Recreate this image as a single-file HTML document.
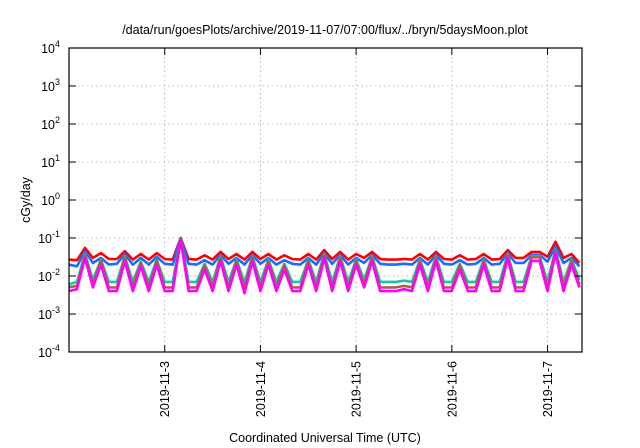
<!DOCTYPE html>
<html><head><meta charset="utf-8"><style>
html,body{margin:0;padding:0;background:#fff}
svg{display:block;font-family:"Liberation Sans",sans-serif}
</style></head><body>
<svg id="chart" width="640" height="448" viewBox="0 0 640 448">
<text x="325" y="34" font-size="12.5" text-anchor="middle" fill="#000">/data/run/goesPlots/archive/2019-11-07/07:00/flux/../bryn/5daysMoon.plot</text>
<text x="325" y="442" font-size="12.5" text-anchor="middle" fill="#000">Coordinated Universal Time (UTC)</text>
<text transform="translate(30,200) rotate(-90)" font-size="12.5" text-anchor="middle" fill="#000">cGy/day</text>
<g id="grid"></g>
<g id="series"></g>
<g id="axes"></g>
</svg>
<script>
const xTickDays = [3,4,5,6,7];
const xTickLabels = ["2019-11-3","2019-11-4","2019-11-5","2019-11-6","2019-11-7"];
const yTickExps = [-4,-3,-2,-1,0,1,2,3,4];
const startDay = 2.0;
const stepDays = 2/24;
const magenta = [0.004,0.0045,0.03,0.005,0.02,0.004,0.004,0.025,0.004,0.018,0.004,0.02,0.004,0.004,0.09,0.004,0.004,0.015,0.004,0.025,0.004,0.02,0.0035,0.025,0.004,0.02,0.004,0.015,0.004,0.004,0.02,0.004,0.03,0.004,0.025,0.004,0.02,0.005,0.025,0.004,0.004,0.004,0.0045,0.004,0.02,0.004,0.025,0.004,0.004,0.015,0.004,0.004,0.02,0.004,0.004,0.03,0.004,0.004,0.025,0.025,0.004,0.04,0.004,0.02,0.005];
const brown = [0.005,0.0055,0.036,0.006,0.025,0.005,0.005,0.031,0.005,0.022,0.005,0.025,0.005,0.005,0.1,0.005,0.005,0.019,0.005,0.031,0.005,0.025,0.0048,0.031,0.005,0.025,0.005,0.019,0.005,0.005,0.025,0.005,0.036,0.005,0.031,0.005,0.025,0.006,0.031,0.005,0.005,0.005,0.0055,0.005,0.025,0.005,0.031,0.005,0.005,0.019,0.005,0.005,0.025,0.005,0.005,0.036,0.005,0.005,0.031,0.031,0.005,0.048,0.005,0.025,0.006];
const teal = [0.006,0.007,0.038,0.008,0.027,0.007,0.007,0.033,0.007,0.024,0.007,0.027,0.007,0.007,0.1,0.007,0.007,0.021,0.007,0.033,0.007,0.027,0.0068,0.033,0.007,0.027,0.007,0.021,0.007,0.007,0.027,0.007,0.038,0.007,0.033,0.007,0.027,0.008,0.033,0.007,0.007,0.007,0.0075,0.007,0.027,0.007,0.033,0.007,0.007,0.021,0.007,0.007,0.027,0.007,0.007,0.038,0.007,0.007,0.033,0.033,0.007,0.05,0.007,0.027,0.008];
const blue = [0.02,0.018,0.045,0.022,0.03,0.02,0.021,0.038,0.02,0.03,0.02,0.032,0.021,0.02,0.1,0.021,0.02,0.026,0.02,0.036,0.021,0.03,0.02,0.036,0.021,0.03,0.02,0.026,0.021,0.02,0.03,0.02,0.04,0.021,0.036,0.02,0.03,0.022,0.036,0.021,0.02,0.02,0.021,0.02,0.03,0.02,0.036,0.021,0.02,0.026,0.02,0.021,0.03,0.02,0.021,0.04,0.022,0.022,0.036,0.036,0.024,0.06,0.022,0.03,0.018];
const red = [0.027,0.026,0.055,0.03,0.04,0.028,0.028,0.045,0.027,0.038,0.027,0.04,0.028,0.027,0.1,0.028,0.027,0.035,0.027,0.043,0.028,0.038,0.027,0.043,0.028,0.038,0.027,0.035,0.028,0.027,0.038,0.027,0.048,0.028,0.043,0.027,0.038,0.03,0.043,0.028,0.027,0.027,0.028,0.027,0.038,0.027,0.043,0.028,0.027,0.035,0.027,0.028,0.038,0.027,0.028,0.048,0.03,0.03,0.043,0.043,0.032,0.08,0.03,0.038,0.022];

const L=69,R=582,T=48,B=352,D0=2.0,D1=7.36;
const NS="http://www.w3.org/2000/svg";
function xs(d){return L+(d-D0)/(D1-D0)*(R-L);}
function ys(v){return B-(Math.log10(v)+4)/8*(B-T);}
function mk(tag,attrs,parent){const e=document.createElementNS(NS,tag);for(const k in attrs)e.setAttribute(k,attrs[k]);parent.appendChild(e);return e;}
const grid=document.getElementById('grid'),axes=document.getElementById('axes'),ser=document.getElementById('series');
yTickExps.forEach(function(p){
  const y=ys(Math.pow(10,p));
  if(p>-4&&p<4){const g=mk('line',{x1:L,x2:R,y1:y,y2:y,stroke:'#aaa','stroke-width':0.8,'stroke-dasharray':'1.5,3'},grid);
  
  }
  const t1=mk('line',{x1:L,x2:L+7,y1:y,y2:y,stroke:'#000'},axes);
  
  
  const t2=mk('line',{x1:R-7,x2:R,y1:y,y2:y,stroke:'#000'},axes);
  
  
  const tx=mk('text',{x:L-9,y:y+5,'font-size':12.5,'text-anchor':'end',fill:'#000'},axes);
  
  
  const b=mk('tspan',{},tx);
  b.textContent='10';
  const sp=mk('tspan',{dy:-6,'font-size':9},tx);
  sp.textContent=String(p);
});
xTickDays.forEach(function(d,i){
  const x=xs(d);
  const g=mk('line',{x1:x,x2:x,y1:T,y2:B,stroke:'#aaa','stroke-width':0.8,'stroke-dasharray':'1.5,3'},grid);
  
  
  const t1=mk('line',{x1:x,x2:x,y1:B-7,y2:B,stroke:'#000'},axes);
  
  
  const t2=mk('line',{x1:x,x2:x,y1:T,y2:T+7,stroke:'#000'},axes);
  
  
  const tx=mk('text',{transform:'translate('+(x+4.5)+','+(B+9)+') rotate(-90)','font-size':12.5,'text-anchor':'end',fill:'#000'},axes);
  
  
  tx.textContent=xTickLabels[i];
});
const fr=mk('rect',{x:L,y:T,width:R-L,height:B-T,fill:'none',stroke:'#000','stroke-width':1.2},axes);


const seriesList=[['red',red,'#ff0000'],['blue',blue,'#1a6cff'],['teal',teal,'#13c8a0'],['brown',brown,'#b05a50'],['magenta',magenta,'#ff00ff']];
seriesList.forEach(function(s){
  const pts=s[1].map(function(v,i){return xs(startDay+i*stepDays).toFixed(1)+','+ys(v).toFixed(1);}).join(' ');
  const pl=mk('polyline',{points:pts,fill:'none',stroke:s[2],'stroke-width':2.6,'stroke-linejoin':'round'},ser);
  
  
});
</script>
</body></html>
